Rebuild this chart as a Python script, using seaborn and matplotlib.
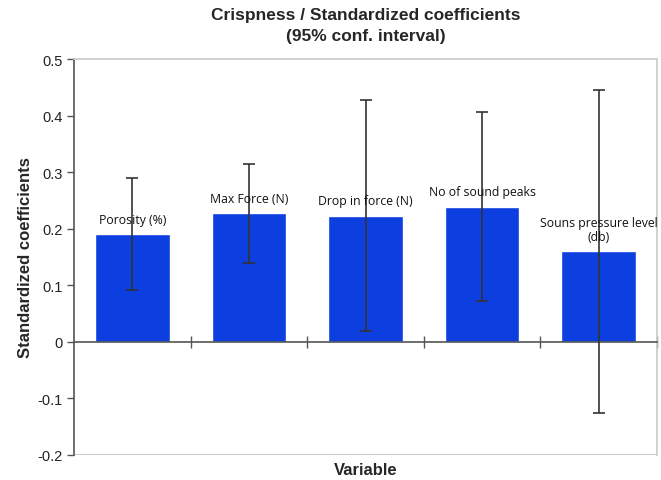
import matplotlib
matplotlib.use("Agg")
import matplotlib.pyplot as plt
import seaborn as sns
import pandas as pd
from matplotlib.ticker import FixedLocator

variables = ["Porosity (%)", "Max Force (N)", "Drop in force (N)", "No of sound peaks",
             "Souns pressure level\n(db)"]
coefficients = [0.191, 0.228, 0.223, 0.239, 0.161]
ci_lower = [0.092, 0.140, 0.020, 0.073, -0.126]
ci_upper = [0.290, 0.315, 0.427, 0.406, 0.445]
yticks = [-0.2, -0.1, 0, 0.1, 0.2, 0.3, 0.4, 0.5]
ytick_labels = ["-0.2", "-0.1", "0", "0.1", "0.2", "0.3", "0.4", "0.5"]

sns.set_theme(style="white")
plt.rcParams["font.family"] = ["Liberation Sans", "DejaVu Sans"]

df = pd.DataFrame({"Variable": variables, "Coef": coefficients})

fig = plt.figure(figsize=(6.61, 4.81), dpi=100)
ax = fig.add_axes([0.1120, 0.052, 0.8820, 0.823])

sns.barplot(data=df, x="Variable", y="Coef", color="#0d3fe0", saturation=1,
            width=0.64, ax=ax, zorder=2)

xs = list(range(len(variables)))
yerr_low = [c - l for c, l in zip(coefficients, ci_lower)]
yerr_high = [u - c for c, u in zip(coefficients, ci_upper)]
ax.errorbar(xs, coefficients, yerr=[yerr_low, yerr_high], fmt="none",
            ecolor="#333333", elinewidth=1.2, capsize=4, capthick=1.2, zorder=3)

for x, c, name in zip(xs, coefficients, variables):
    ax.annotate(name, (x, c), xytext=(0, 6), textcoords="offset points",
                ha="center", va="bottom", fontsize=8.8, family=["Open Sans", "DejaVu Sans"],
                color="#111111", linespacing=1.1, zorder=4)

ax.set_xlim(-0.5, len(variables) - 0.5)
ax.set_ylim(-0.2, 0.5)
ax.set_yticks(yticks)
ax.set_yticklabels(ytick_labels, fontsize=10.5, color="#222222")

ax.spines["bottom"].set_position(("data", 0))
ax.spines["bottom"].set_color("#555555")
ax.spines["bottom"].set_linewidth(1.2)
ax.spines["left"].set_color("#555555")
ax.spines["left"].set_linewidth(1.2)
ax.spines["top"].set_color("#cccccc")
ax.spines["right"].set_color("#cccccc")
ax.axhline(-0.2, color="#cccccc", lw=1.5, zorder=1)

ax.set_xticks([])
ax.xaxis.set_minor_locator(FixedLocator([i + 0.5 for i in range(len(variables))]))
ax.tick_params(axis="x", which="minor", bottom=True, direction="inout", length=8,
               width=1, color="#555555", labelbottom=False)
ax.tick_params(axis="y", left=True, direction="out", length=5, width=1,
               color="#555555", pad=3)

ax.set_xlabel("Variable", fontsize=12, fontweight="bold")
ax.xaxis.set_label_coords(0.5, -0.017)
ax.set_ylabel("Standardized coefficients", fontsize=12, fontweight="bold")
ax.yaxis.set_label_coords(-0.07, 0.5)
ax.set_title("Crispness / Standardized coefficients\n(95% conf. interval)",
             fontsize=12.5, fontweight="bold", pad=14, linespacing=1.45)

fig.savefig("out.png", dpi=100)
